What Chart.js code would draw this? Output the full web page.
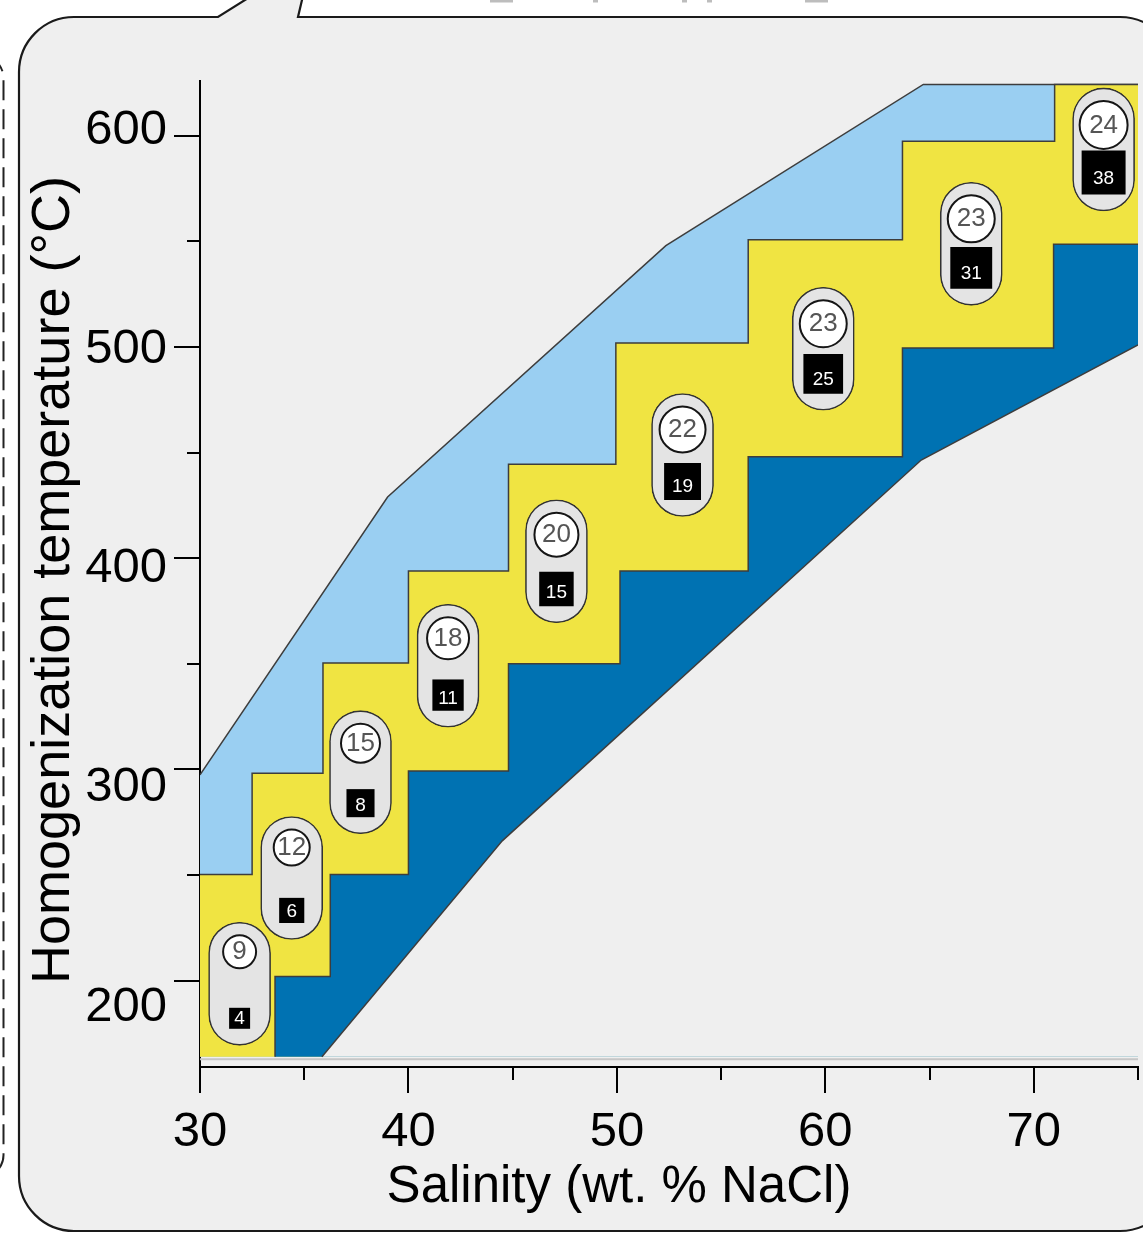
<!DOCTYPE html>
<html>
<head>
<meta charset="utf-8">
<title>Homogenization temperature vs salinity</title>
<script src="https://cdn.jsdelivr.net/npm/chart.js@4.4.1/dist/chart.umd.min.js"></script>
<style>
  html, body { margin: 0; padding: 0; background: #fff; overflow: hidden; }
  #wrap { position: relative; width: 1143px; height: 1233px; }
</style>
</head>
<body>
<div id="wrap"><canvas id="chart"></canvas></div>
<script>
// ---- data -------------------------------------------------------------
// Inclusion groups: salinity (wt.% NaCl) and homogenization temperature (°C)
const salinity     = [31.9, 34.4, 37.7, 41.9, 47.1, 53.15, 59.9, 67.0, 73.35];
const temperature  = [198.5, 248.6, 298.7, 349.1, 398.6, 448.9, 499.2, 548.9, 593.6];
const circleCounts = [9, 12, 15, 18, 20, 22, 23, 23, 24];
const squareCounts = [4, 6, 8, 11, 15, 19, 25, 31, 38];

// Field boundaries as [salinity, temperature] vertices
const upperBound = [[30, 297.4], [39.0, 429.0], [52.35, 548.0], [64.7, 624.4], [75, 624.4]];
const stepUpper = [
  [30, 250.3], [32.5, 250.3], [32.5, 298.2], [35.9, 298.2], [35.9, 350.4], [40, 350.4],
  [40, 394.0], [44.8, 394.0], [44.8, 444.5], [49.95, 444.5], [49.95, 501.9], [56.3, 501.9],
  [56.3, 550.8], [63.7, 550.8], [63.7, 597.5], [71, 597.5], [71, 624.4], [75, 624.4]
];
const stepLower = [
  [33.6, 164], [33.6, 201.9], [36.25, 201.9], [36.25, 250.3], [40, 250.3], [40, 299.3],
  [44.8, 299.3], [44.8, 350.0], [50.15, 350.0], [50.15, 394.0], [56.3, 394.0], [56.3, 448.1],
  [63.7, 448.1], [63.7, 499.6], [70.95, 499.6], [70.95, 548.7], [75, 548.7]
];
const lowerBound = [[35.85, 164], [44.5, 266.2], [64.6, 446.5], [75, 501.0]];
const fieldFloor = 164;
const baseLine = [[30, 162.8], [75, 162.8]];

// Tick labels
const xLabelValues = [30, 40, 50, 60, 70];
const yLabelValues = [200, 300, 400, 500, 600];

// ---- layout & style constants -----------------------------------------
const X_MIN = 30, X_MAX = 75, Y_MIN = 159.1, Y_MAX = 626;
const PAD = { left: 100, right: 5, top: 81, bottom: 14.8 };
const Y_AXIS_W = 100, X_AXIS_H = 80;
const PLOT_H = 986;
const PX_PER_DEG = PLOT_H / (Y_MAX - Y_MIN);
const PILL_W = 62, PILL_HALF = 61.5 / PX_PER_DEG;
const FONT = "'Liberation Sans', Arial, Helvetica, sans-serif";

const C_LIGHT = '#9acff2', C_YELLOW = '#f0e442', C_BLUE = '#0072b2', C_BG = '#efefef';

const circleRadius = v => (v + 26) / 2;
const squareSide = v => 21 + 10.2 * Math.log(v / 4);

Chart.defaults.font.family = FONT;
Chart.defaults.color = '#000';

const toPts = a => a.map(([x, y]) => ({ x, y }));
const field = (pts, color, order) => ({
  type: 'line', data: toPts(pts), backgroundColor: color, borderColor: '#3d3d3d',
  borderWidth: 1.5, fill: { value: fieldFloor }, pointRadius: 0, tension: 0, order
});
const noPadding = s => { s.paddingLeft = 0; s.paddingRight = 0; s.paddingTop = 0; s.paddingBottom = 0; };

// ---- plugins ------------------------------------------------------------
const panel = {
  id: 'panel',
  // let the temperature label axis use the full left margin; centre its title a little lower
  afterLayout(chart) {
    const yl = chart.scales.yl;
    yl.left = 0;
    yl.top += 6;
    yl.bottom += 6;
  },
  beforeDraw(chart) {
    const ctx = chart.ctx;
    ctx.save();
    ctx.fillStyle = '#fff';
    ctx.fillRect(0, 0, chart.width, chart.height);
    // neighbouring dashed frame on the left
    ctx.setLineDash([20, 9]);
    ctx.lineWidth = 2;
    ctx.strokeStyle = '#222';
    ctx.beginPath();
    ctx.roundRect(-120, 56, 123.5, 1121, 22);
    ctx.stroke();
    ctx.setLineDash([]);
    // clipped caption descenders from the panel above
    ctx.fillStyle = '#bdbdbd';
    [[490, 23], [593, 5], [682, 5], [707, 5], [805, 23]].forEach(([x, w]) => ctx.fillRect(x, 0, w, 2.5));
    // callout panel
    const L = 19, T = 17, R = 1175, B = 1231, r = 55;
    ctx.beginPath();
    ctx.moveTo(L, T + r);
    ctx.arcTo(L, T, L + r, T, r);
    ctx.lineTo(218, T);
    ctx.lineTo(272, -17);
    ctx.lineTo(306, -17);
    ctx.lineTo(298, T);
    ctx.lineTo(R - r, T);
    ctx.arcTo(R, T, R, T + r, r);
    ctx.lineTo(R, B - r);
    ctx.arcTo(R, B, R - r, B, r);
    ctx.lineTo(L + r, B);
    ctx.arcTo(L, B, L, B - r, r);
    ctx.closePath();
    ctx.fillStyle = C_BG;
    ctx.fill();
    ctx.lineWidth = 2.2;
    ctx.strokeStyle = '#1a1a1a';
    ctx.stroke();
    ctx.restore();
  }
};

const tickMarks = {
  id: 'tickMarks',
  afterDraw(chart) {
    const { ctx } = chart;
    const x = chart.scales.x, y = chart.scales.y;
    ctx.save();
    ctx.strokeStyle = '#000';
    ctx.lineWidth = 2;
    ctx.beginPath();
    x.ticks.forEach(t => {
      const p = Math.round(x.getPixelForValue(t.value));
      const len = t.value % 10 === 0 ? 26 : 13;
      ctx.moveTo(p, x.top);
      ctx.lineTo(p, x.top + len);
    });
    y.ticks.forEach(t => {
      const p = Math.round(y.getPixelForValue(t.value));
      const len = t.value % 100 === 0 ? 26 : 13;
      ctx.moveTo(y.right, p);
      ctx.lineTo(y.right - len, p);
    });
    ctx.stroke();
    ctx.restore();
  }
};

const markLabels = {
  id: 'markLabels',
  afterDatasetsDraw(chart) {
    const ctx = chart.ctx;
    const ds = chart.data.datasets;
    const circ = chart.getDatasetMeta(ds.findIndex(d => d.label === 'circles'));
    const sq = chart.getDatasetMeta(ds.findIndex(d => d.label === 'squares'));
    ctx.save();
    ctx.textAlign = 'center';
    ctx.textBaseline = 'middle';
    ctx.font = '26px ' + FONT;
    ctx.fillStyle = '#555';
    circ.data.forEach((el, i) => ctx.fillText(String(circleCounts[i]), el.x, el.y + 0.5));
    ctx.font = '19px ' + FONT;
    ctx.fillStyle = '#fff';
    sq.data.forEach((el, i) => {
      const side = squareSide(squareCounts[i]);
      ctx.fillText(String(squareCounts[i]), el.x, el.y + (side - 20) * 0.28);
    });
    ctx.restore();
  }
};

// ---- chart --------------------------------------------------------------
new Chart(document.getElementById('chart'), {
  type: 'line',
  data: {
    datasets: [
      field(upperBound, C_LIGHT, 10),
      field(stepUpper, C_YELLOW, 9),
      field(stepLower, C_BLUE, 8),
      field(lowerBound, C_BG, 7),
      {
        type: 'line', data: toPts(baseLine), borderColor: '#c6c6c6', borderWidth: 2,
        fill: false, pointRadius: 0, order: 6
      },
      {
        type: 'bar', label: 'pills',
        data: salinity.map((s, i) => ({ x: s, y: [temperature[i] - PILL_HALF, temperature[i] + PILL_HALF] })),
        backgroundColor: '#e4e4e4', borderColor: '#333', borderWidth: 1.6,
        borderSkipped: false,
        borderRadius: { topLeft: PILL_W / 2, topRight: PILL_W / 2, bottomLeft: PILL_W / 2, bottomRight: PILL_W / 2 },
        barThickness: PILL_W, order: 5, clip: false
      },
      {
        type: 'scatter', label: 'circles',
        data: salinity.map((s, i) => ({ x: s, y: temperature[i] + (49.5 - circleRadius(circleCounts[i])) / PX_PER_DEG })),
        pointStyle: 'circle',
        pointRadius: c => c.dataIndex === undefined ? 18 : circleRadius(circleCounts[c.dataIndex]) - 1,
        pointBackgroundColor: '#fff', pointBorderColor: '#151515', pointBorderWidth: 2,
        order: 4, clip: false
      },
      {
        type: 'scatter', label: 'squares',
        data: salinity.map((s, i) => ({ x: s, y: temperature[i] - (45 - squareSide(squareCounts[i]) / 2) / PX_PER_DEG })),
        pointStyle: 'rect',
        pointRadius: c => c.dataIndex === undefined ? 15 : squareSide(squareCounts[c.dataIndex]) / Math.SQRT2,
        pointBackgroundColor: '#000', pointBorderWidth: 0,
        order: 3, clip: false
      }
    ]
  },
  options: {
    responsive: true,
    maintainAspectRatio: false,
    animation: false,
    events: [],
    layout: { padding: PAD, autoPadding: false },
    plugins: {
      legend: { display: false },
      tooltip: { enabled: false },
      title: {
        display: true, position: 'bottom', text: 'Salinity (wt. % NaCl)', color: '#000',
        font: { size: 51, weight: 'normal', lineHeight: 1.2 }, padding: { top: 10, bottom: 0 }
      }
    },
    scales: {
      x: {
        type: 'linear', position: 'bottom', min: X_MIN, max: X_MAX, z: 1, offset: false,
        grid: { display: false, drawTicks: false, offset: false },
        border: { display: true, color: '#000', width: 2 },
        ticks: {
          stepSize: 5, autoSkip: false, maxRotation: 0, includeBounds: false, padding: 36,
          font: { size: 49 }, color: '#000',
          callback: v => xLabelValues.includes(v) ? String(v) : ''
        },
        afterFit: s => { s.height = X_AXIS_H; noPadding(s); }
      },
      // data axis: carries the axis line and tick marks, sits against the plot
      y: {
        type: 'linear', position: 'left', min: Y_MIN, max: Y_MAX, weight: 1, z: 1,
        grid: { display: false, drawTicks: false },
        border: { display: true, color: '#000', width: 2 },
        ticks: { display: false, stepSize: 50, autoSkip: false, includeBounds: false },
        afterFit: s => { s.width = 0; noPadding(s); }
      },
      // label axis: temperature labels and the axis title
      yl: {
        type: 'linear', position: 'left', min: 172.7, max: 622.5, weight: 2,
        grid: { display: false, drawTicks: false },
        border: { display: false },
        ticks: {
          stepSize: 100, autoSkip: false, includeBounds: false, padding: 33,
          font: { size: 49 }, color: '#000',
          callback: v => yLabelValues.includes(v) ? String(v) : ''
        },
        title: {
          display: true, text: 'Homogenization temperature (°C)', color: '#000',
          font: { size: 54, lineHeight: 1.2 }, padding: { top: 21.6, bottom: 0 }
        },
        afterFit: s => { s.width = Y_AXIS_W; noPadding(s); }
      }
    }
  },
  plugins: [panel, tickMarks, markLabels]
});
</script>
</body>
</html>
